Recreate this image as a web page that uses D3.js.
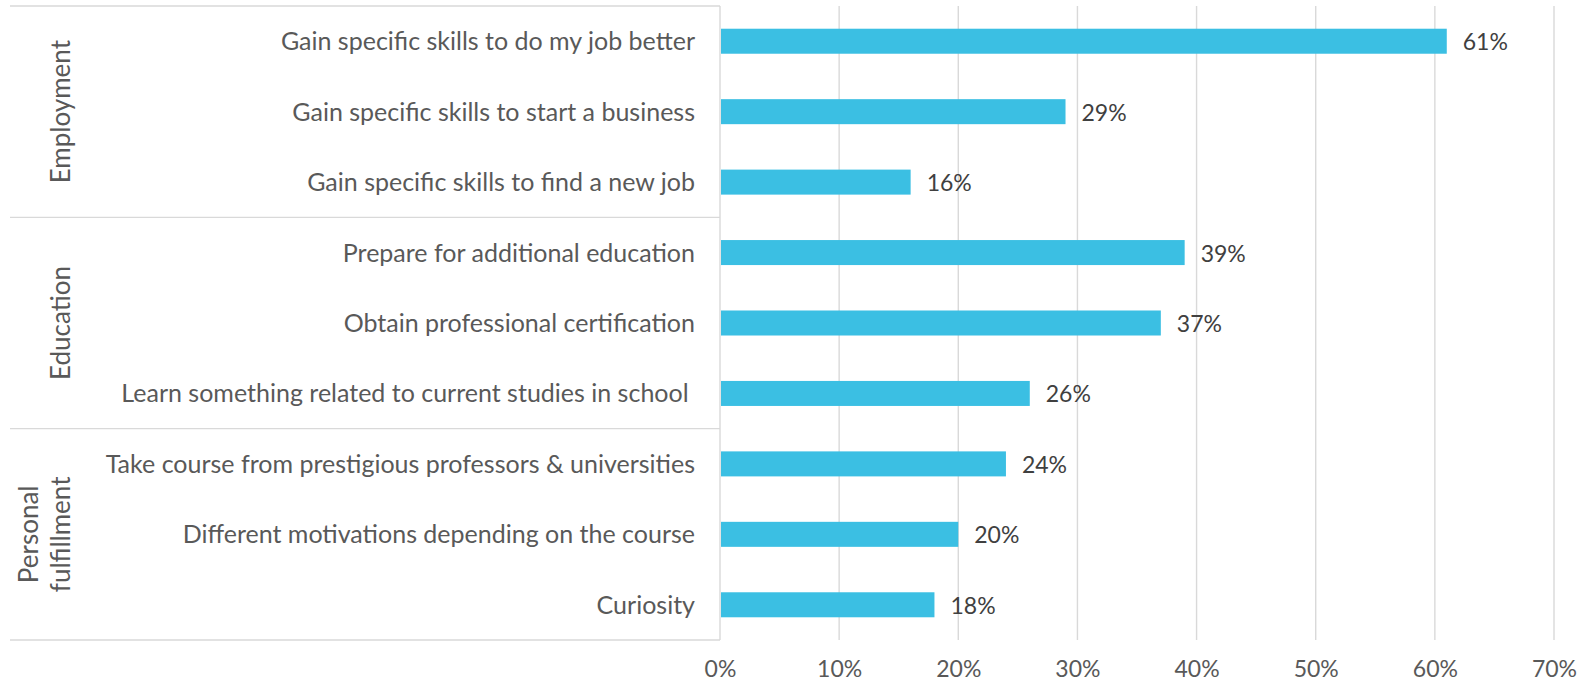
<!DOCTYPE html>
<html>
<head>
<meta charset="utf-8">
<script src="https://cdn.jsdelivr.net/npm/d3@7/dist/d3.min.js"></script>
<style>
  html, body { margin: 0; padding: 0; background: #ffffff; }
  svg { display: block; font-family: Lato, "Open Sans", sans-serif; }
</style>
</head>
<body>
<svg id="chart" width="1585" height="683"></svg>
<script>
// Reasons for taking online courses, grouped by motivation type
const categories = [
  "Gain specific skills to do my job better",
  "Gain specific skills to start a business",
  "Gain specific skills to find a new job",
  "Prepare for additional education",
  "Obtain professional certification",
  "Learn something related to current studies in school ",
  "Take course from prestigious professors & universities",
  "Different motivations depending on the course",
  "Curiosity"
];
const values = [61, 29, 16, 39, 37, 26, 24, 20, 18];
const groupNames = ["Employment", "Education", "Personal fulfillment"];
const groupSizes = [3, 3, 3];
const tickValues = [0, 10, 20, 30, 40, 50, 60, 70];

const svg = d3.select("#chart");
const textColor = "#595959";
const gridColor = "#d9d9d9";
const barColor = "#3bbfe3";

const plotLeft = 720, plotRight = 1554, plotTop = 6, plotBottom = 640;
const panelLeft = 10;

const x = d3.scaleLinear().domain([0, 70]).range([plotLeft, plotRight]);
const y = d3.scaleBand().domain(d3.range(categories.length))
  .range([plotTop, plotBottom]).paddingInner(0.645).paddingOuter(0.3225);
const row = d3.scaleBand().domain(d3.range(categories.length)).range([plotTop, plotBottom]);

// vertical gridlines
svg.append("g").selectAll("line")
  .data(tickValues.slice(1))
  .join("line")
  .attr("x1", d => x(d)).attr("x2", d => x(d))
  .attr("y1", plotTop).attr("y2", plotBottom)
  .attr("stroke", gridColor).attr("stroke-width", 1.4);

// x axis tick labels
const xAxis = d3.axisBottom(x).tickValues(tickValues).tickFormat(d => d + "%").tickSize(0).tickPadding(0);
const gx = svg.append("g").attr("transform", `translate(0,${plotBottom})`).call(xAxis);
gx.select(".domain").remove();
gx.selectAll("text")
  .attr("y", 37).attr("dy", null)
  .attr("fill", textColor)
  .style("font-size", "23px")
  .style("font-family", "Lato, 'Open Sans', sans-serif");

// group separators and category axis line
let start = 0;
const boundaries = [0];
groupSizes.forEach(n => { start += n; boundaries.push(start); });
svg.append("g").selectAll("line")
  .data(boundaries)
  .join("line")
  .attr("x1", panelLeft).attr("x2", plotLeft)
  .attr("y1", d => d === categories.length ? plotBottom : row(d))
  .attr("y2", d => d === categories.length ? plotBottom : row(d))
  .attr("stroke", gridColor).attr("stroke-width", 1.4);
svg.append("line")
  .attr("x1", plotLeft).attr("x2", plotLeft)
  .attr("y1", plotTop).attr("y2", plotBottom)
  .attr("stroke", gridColor).attr("stroke-width", 1.4);

// bars
svg.append("g").selectAll("rect")
  .data(values)
  .join("rect")
  .attr("x", x(0) + 1)
  .attr("y", (d, i) => y(i))
  .attr("width", d => x(d) - x(0) - 1)
  .attr("height", y.bandwidth())
  .attr("fill", barColor);

// value labels
svg.append("g").selectAll("text")
  .data(values)
  .join("text")
  .attr("x", d => x(d) + 16)
  .attr("y", (d, i) => y(i) + y.bandwidth() / 2 + 9)
  .attr("fill", "#404040")
  .style("font-size", "23px")
  .text(d => d + "%");

// category labels
svg.append("g").selectAll("text")
  .data(categories)
  .join("text")
  .attr("x", plotLeft - 25)
  .attr("y", (d, i) => row(i) + row.bandwidth() / 2 + 9)
  .attr("text-anchor", "end")
  .attr("fill", textColor)
  .style("font-size", "25px")
  .style("white-space", "pre")
  .text(d => d);

// group labels, rotated
groupNames.forEach((name, gi) => {
  const y0 = row(boundaries[gi]);
  const y1 = boundaries[gi + 1] === categories.length ? plotBottom : row(boundaries[gi + 1]);
  const cy = (y0 + y1) / 2;
  const words = name.split(" ");
  const lines = words.length > 1 ? words : [name];
  const t = svg.append("text")
    .attr("transform", `translate(${70},${cy}) rotate(-90)`)
    .attr("text-anchor", "middle")
    .attr("fill", textColor)
    .style("font-size", "26px");
  lines.forEach((ln, li) => {
    t.append("tspan")
      .attr("x", 0)
      .attr("y", (li - (lines.length - 1)) * 32)
      .text(ln);
  });
});
</script>
</body>
</html>
